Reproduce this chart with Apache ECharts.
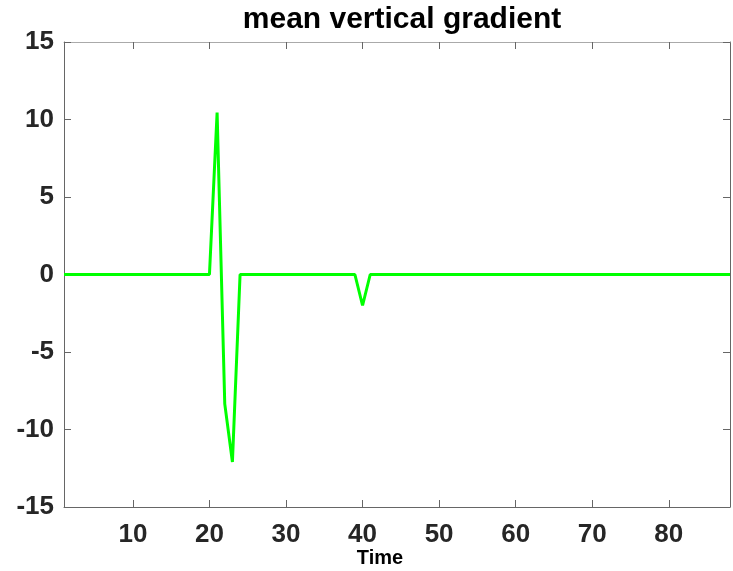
<!DOCTYPE html>
<html>
<head>
<meta charset="utf-8">
<script src="https://cdn.jsdelivr.net/npm/echarts@6/dist/echarts.min.js"></script>
<style>
  html, body { margin: 0; padding: 0; background: #fff; }
  #main { width: 733px; height: 571px; }
</style>
</head>
<body>
<div id="main"></div>
<script>
// time steps 1..88
var time = [
  1, 2, 3, 4, 5, 6, 7, 8, 9, 10,
  11, 12, 13, 14, 15, 16, 17, 18, 19, 20,
  21, 22, 23, 24, 25, 26, 27, 28, 29, 30,
  31, 32, 33, 34, 35, 36, 37, 38, 39, 40,
  41, 42, 43, 44, 45, 46, 47, 48, 49, 50,
  51, 52, 53, 54, 55, 56, 57, 58, 59, 60,
  61, 62, 63, 64, 65, 66, 67, 68, 69, 70,
  71, 72, 73, 74, 75, 76, 77, 78, 79, 80,
  81, 82, 83, 84, 85, 86, 87, 88
]
// mean vertical gradient
var gradient = [
  0, 0, 0, 0, 0, 0, 0, 0, 0, 0,
  0, 0, 0, 0, 0, 0, 0, 0, 0, 0,
  10.45, -8.35, -12.1, 0, 0, 0, 0, 0, 0, 0,
  0, 0, 0, 0, 0, 0, 0, 0, 0, -2.0,
  0, 0, 0, 0, 0, 0, 0, 0, 0, 0,
  0, 0, 0, 0, 0, 0, 0, 0, 0, 0,
  0, 0, 0, 0, 0, 0, 0, 0, 0, 0,
  0, 0, 0, 0, 0, 0, 0, 0, 0, 0,
  0, 0, 0, 0, 0, 0, 0, 0
]
var xTicks = [10, 20, 30, 40, 50, 60, 70, 80]

var font = 'Liberation Sans, Arial, Helvetica, sans-serif'
var axisColor = '#666'

var chart = echarts.init(document.getElementById('main'))

var option = {
  animation: false,
  backgroundColor: '#fff',
  title: {
    text: 'mean vertical gradient',
    left: 397,
    textAlign: 'center',
    top: 0,
    textStyle: { fontFamily: font, fontSize: 30, fontWeight: 'bold', color: '#000' }
  },
  grid: { left: 64, right: 3, top: 42, bottom: 64, containLabel: false, outerBoundsMode: 'none' },
  xAxis: [{
    type: 'value',
    min: 1,
    max: 88,
    name: 'Time',
    nameLocation: 'middle',
    nameGap: 41,
    nameMoveOverlap: false,
    nameTextStyle: {
      fontFamily: font, fontSize: 20, fontWeight: 'bold', color: '#000',
      padding: [0, 34, 0, 0]
    },
    axisLine: { show: true, onZero: false, lineStyle: { color: axisColor, width: 1 } },
    axisTick: { show: true, inside: true, length: 7, customValues: xTicks, lineStyle: { color: axisColor } },
    axisLabel: {
      customValues: xTicks, margin: 15,
      fontFamily: font, fontSize: 26, fontWeight: 'bold', color: '#262626'
    },
    splitLine: { show: false }
  }, {
    type: 'value',
    position: 'top',
    min: 1,
    max: 88,
    axisLine: { show: true, onZero: false, lineStyle: { color: '#aaa', width: 1 } },
    axisTick: { show: true, inside: true, length: 7, customValues: xTicks, lineStyle: { color: axisColor } },
    axisLabel: { show: false },
    splitLine: { show: false }
  }],
  yAxis: [{
    type: 'value',
    min: -15,
    max: 15,
    interval: 5,
    axisLine: { show: true, onZero: false, lineStyle: { color: axisColor, width: 1 } },
    axisTick: { show: true, inside: true, length: 7, lineStyle: { color: axisColor } },
    axisLabel: {
      margin: 10,
      fontFamily: font, fontSize: 26, fontWeight: 'bold', color: '#262626'
    },
    splitLine: { show: false }
  }, {
    type: 'value',
    position: 'right',
    min: -15,
    max: 15,
    interval: 5,
    axisLine: { show: true, onZero: false, lineStyle: { color: axisColor, width: 1 } },
    axisTick: { show: true, inside: true, length: 7, lineStyle: { color: axisColor } },
    axisLabel: { show: false },
    splitLine: { show: false }
  }],
  series: [{
    type: 'line',
    data: time.map(function (t, i) { return [t, gradient[i]] }),
    showSymbol: false,
    lineStyle: { color: '#00ff00', width: 3 },
    itemStyle: { color: '#00ff00' }
  }]
}

chart.setOption(option)
</script>
</body>
</html>
